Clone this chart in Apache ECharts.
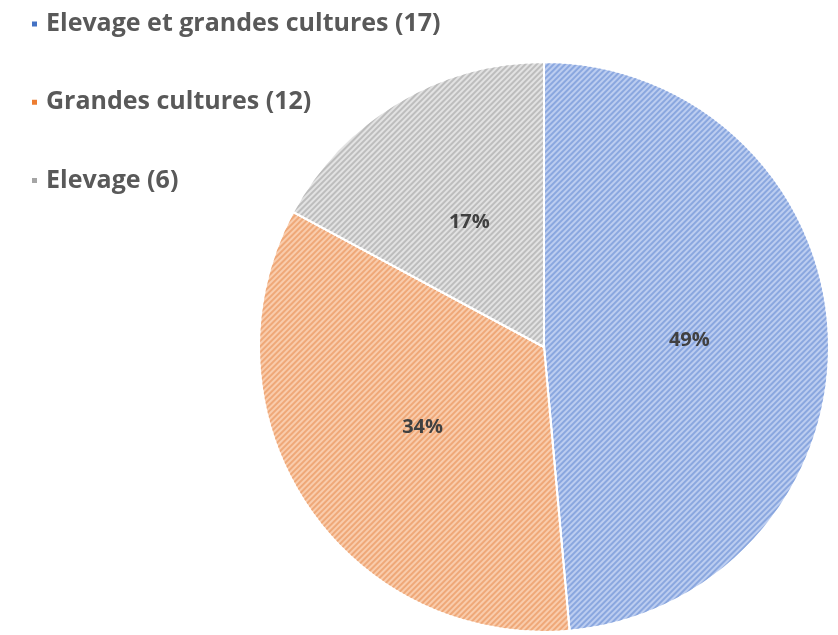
<!doctype html>
<html>
<head>
    <title>Pie</title>
    <script src="https://cdn.jsdelivr.net/npm/echarts@6/dist/echarts.min.js"></script>
</head>
<style>
    html, body { margin: 0; padding: 0; background: #fff; }
    #main { width: 838px; height: 635px; }
</style>
<body>
<div id="main"></div>
<script>
  var categories = ['Elevage et grandes cultures (17)', 'Grandes cultures (12)', 'Elevage (6)'];
  var values = [17, 12, 6];
  var fills = ['#bccdf0', '#f9ccac', '#e2e2e2'];
  var hatch = ['#8aa7df', '#efa878', '#bdbdbd'];
  var legendColors = ['#4472c4', '#ed7d31', '#a5a5a5'];

  var myChart = echarts.init(document.getElementById('main'));

  var data = categories.map(function (name, i) {
    return {
      name: name,
      value: values[i],
      itemStyle: {
        color: fills[i],
        decal: {
          symbol: 'rect',
          symbolSize: 1,
          color: hatch[i],
          dashArrayX: [1, 0],
          dashArrayY: [2, 2],
          rotation: -Math.PI / 4
        }
      }
    };
  });

  var option = {
    animation: false,
    legend: {
      orient: 'vertical',
      left: 25,
      top: -4,
      itemGap: 32,
      itemWidth: 7,
      itemHeight: 7,
      icon: 'rect',
      data: categories.map(function (c, i) {
        return { name: c, itemStyle: { color: legendColors[i], decal: 'none' } };
      }),
      textStyle: {
        fontFamily: 'Open Sans',
        fontWeight: 'bold',
        fontSize: 25,
        color: '#595959',
        padding: [0, 0, 0, 3]
      }
    },
    series: [{
      type: 'pie',
      center: [544, 347],
      radius: 285,
      startAngle: 90,
      clockwise: true,
      percentPrecision: 0,
      data: data,
      itemStyle: { borderColor: '#fff', borderWidth: 2 },
      label: {
        position: 'inside',
        formatter: '{d}%',
        fontFamily: 'Open Sans',
        fontWeight: 'bold',
        fontSize: 20,
        color: '#404040'
      },
      emphasis: { disabled: true }
    }]
  };

  myChart.setOption(option);
</script>
</body>
</html>
